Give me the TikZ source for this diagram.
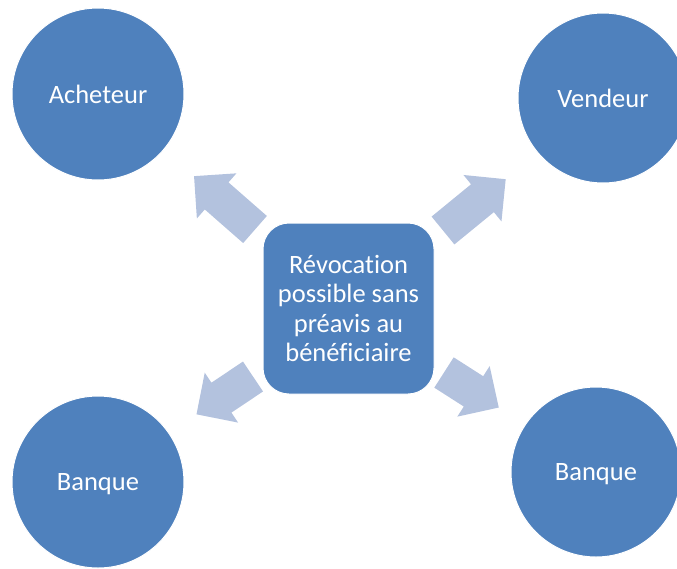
\documentclass[tikz,border=0pt]{standalone}
\usepackage{fontspec}
\setmainfont[RawFeature=-liga]{Carlito}
\definecolor{rolefill}{HTML}{4F81BD}
\definecolor{arrowfill}{HTML}{B3C2DE}
\tikzset{
  role/.style={circle, fill=rolefill, draw=white, line width=1pt,
    minimum size=172pt, inner sep=0pt, text=white, text depth=0pt,
    font=\fontsize{26.5}{29.5}\selectfont},
  centre/.style={rectangle, rounded corners=26pt, fill=rolefill, draw=white,
    line width=1pt, minimum width=171pt, minimum height=171pt, inner sep=0pt,
    text=white, align=center, font=\fontsize{26.5}{29.5}\selectfont},
  pics/blockarrow/.style={
    code={\fill[arrowfill] (0,-18) -- (#1,-18) -- (#1,-30) -- (#1+30,0)
      -- (#1,30) -- (#1,18) -- (0,18) -- cycle;}}
}
\begin{document}
\begin{tikzpicture}[x=1pt, y=-1pt]
  \useasboundingbox (0,0) rectangle (677,568);

  % parties
  \node[role] (acheteur) at (98,94) {Acheteur};
  \node[role, minimum size=170pt] (vendeur) at (603,98) {Vendeur};
  \node[role] (banqueA) at (98,482) {Banque};
  \node[role, minimum size=170pt] (banqueB) at (596,472) {Banque};

  % central statement
  \node[centre] (revoc) at (348.5,308.5)
    {Révocation\\possible sans\\préavis au\\bénéficiaire};

  % arrow roots at the box corners
  \coordinate (rUL) at (255,229.5);
  \coordinate (rUR) at (443,230.5);
  \coordinate (rLL) at (253,376.5);
  \coordinate (rLR) at (444,372.5);

  % block arrows pointing outwards
  \pic[rotate=138.8] at (rUL) {blockarrow=51};
  \pic[rotate=39.3]  at (rUR) {blockarrow=51};
  \pic[rotate=213.8] at (rLL) {blockarrow=38};
  \pic[rotate=-32.6] at (rLR) {blockarrow=35};
\end{tikzpicture}
\end{document}
